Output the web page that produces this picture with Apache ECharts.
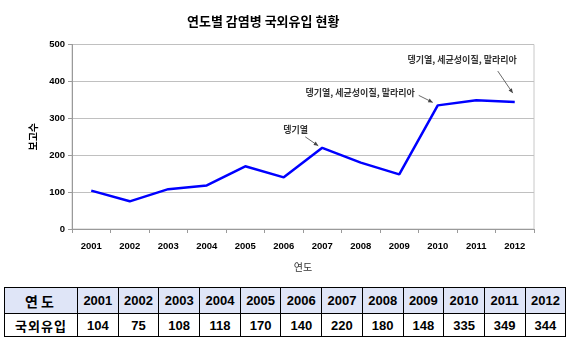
<!DOCTYPE html>
<html>
<head>
<meta charset="utf-8">
<script src="https://cdn.jsdelivr.net/npm/echarts@6/dist/echarts.min.js"></script>
<style>
  html, body { margin: 0; padding: 0; background: #fff; }
  #wrap { position: relative; width: 571px; height: 356px; overflow: hidden; }
  #chart { position: absolute; left: 0; top: 0; width: 571px; height: 285px; }
  #tbl { position: absolute; left: 4px; top: 287px; border-collapse: collapse; table-layout: fixed; }
  #tbl td { border: 1px solid #000; text-align: center; padding: 0; font-weight: bold; color: #000; }
  #tbl tr.h td { background: #dfe5f7; height: 25px; }
  #tbl tr.d td { background: #fff; height: 22px; }
  #tbl td.num { font-family: 'Liberation Sans Narrow', 'Liberation Sans', Arial, sans-serif; font-size: 13px; }
  #tbl td.kr { font-family: 'Noto Sans CJK KR', sans-serif; font-size: 13px; letter-spacing: 1px; }
</style>
</head>
<body>
<div id="wrap">
  <div id="chart"></div>
  <table id="tbl"></table>
</div>
<script>
// ---- data ----
var years = ['2001','2002','2003','2004','2005','2006','2007','2008','2009','2010','2011','2012'];
var cases = [104, 75, 108, 118, 170, 140, 220, 180, 148, 335, 349, 344];
var yMin = 0, yMax = 500, yStep = 100;
var titleText = '연도별 감염병 국외유입 현황';
var xName = '연도';
var yName = '보고수';
var rowHeadYear = '연도';
var rowHeadValue = '국외유입';
var noteIndex = [6, 9, 11];
var noteText = ['뎅기열', '뎅기열, 세균성이질, 말라리아', '뎅기열, 세균성이질, 말라리아'];

// ---- table ----
(function () {
  var t = document.getElementById('tbl');
  var h = '<colgroup><col style="width:73px">';
  for (var i = 0; i < years.length; i++) h += '<col style="width:40.7px">';
  h += '</colgroup><tr class="h"><td class="kr" style="font-size:14px;letter-spacing:3px">' + rowHeadYear + '</td>';
  for (var i = 0; i < years.length; i++) h += '<td class="num">' + years[i] + '</td>';
  h += '</tr><tr class="d"><td class="kr">' + rowHeadValue + '</td>';
  for (var i = 0; i < cases.length; i++) h += '<td class="num">' + cases[i] + '</td>';
  h += '</tr>';
  t.innerHTML = h;
})();

// ---- chart ----
var chart = echarts.init(document.getElementById('chart'), null, { renderer: 'canvas' });
var axisFont = { fontFamily: "'Liberation Sans', Arial, sans-serif", fontWeight: 'bold', fontSize: 9.5, color: '#000' };
chart.setOption({
  animation: false,
  backgroundColor: '#fff',
  title: {
    text: titleText, left: 182, top: 10,
    textStyle: { fontFamily: "'Noto Sans CJK KR', sans-serif", fontSize: 13, fontWeight: 'bold', color: '#000' }
  },
  grid: { left: 72, right: 37, top: 44.5, height: 184.5, show: true, borderColor: '#c8c8c8', borderWidth: 1 },
  xAxis: {
    type: 'category', data: years, boundaryGap: true,
    name: xName, nameLocation: 'middle', nameGap: 33,
    nameTextStyle: { fontFamily: "'Noto Sans CJK KR', sans-serif", fontSize: 10, color: '#333' },
    axisLine: { lineStyle: { color: '#9a9a9a', width: 1 } },
    axisTick: { show: true, length: 4, lineStyle: { color: '#9a9a9a' } },
    axisLabel: Object.assign({ margin: 12, interval: 0 }, axisFont),
    splitLine: { show: false }
  },
  yAxis: {
    type: 'value', min: yMin, max: yMax, interval: yStep,
    name: yName, nameLocation: 'middle', nameGap: 33, nameRotate: 90,
    nameTextStyle: { fontFamily: "'Noto Sans CJK KR', sans-serif", fontSize: 10, fontWeight: 'bold', color: '#000' },
    axisLine: { show: true, lineStyle: { color: '#9a9a9a', width: 1 } },
    axisTick: { show: true, length: 4, lineStyle: { color: '#9a9a9a' } },
    axisLabel: Object.assign({ margin: 7 }, axisFont),
    splitLine: { show: true, lineStyle: { color: '#c0c0c0', width: 1 } }
  },
  series: [{
    type: 'line', data: cases, symbol: 'none', smooth: false,
    lineStyle: { color: '#0000ff', width: 2.5 }, itemStyle: { color: '#0000ff' }
  }]
});

// ---- annotations (placed relative to the data points through the axes) ----
var noteStyle = [
  { tx: -39, ty: -18, align: 'left',  ax1: -17, ay1: -11, ax2: -4, ay2: -2 },
  { tx: -23, ty: -13, align: 'right', ax1: -19, ay1: -10, ax2: -5, ay2: -3 },
  { tx: 2,   ty: -42, align: 'right', ax1: -17, ay1: -31, ax2: -2, ay2: -9 }
];
var gfx = [];
for (var k = 0; k < noteIndex.length; k++) {
  var i = noteIndex[k];
  var p = chart.convertToPixel({ seriesIndex: 0 }, [i, cases[i]]);
  var s = noteStyle[k];
  gfx.push({
    type: 'text', x: p[0] + s.tx, y: p[1] + s.ty, silent: true,
    style: { text: noteText[k], fill: '#333', align: s.align, verticalAlign: 'middle',
      font: "bold 9px 'Noto Sans CJK KR', sans-serif" }
  });
  var x1 = p[0] + s.ax1, y1 = p[1] + s.ay1, x2 = p[0] + s.ax2, y2 = p[1] + s.ay2;
  gfx.push({ type: 'line', silent: true, shape: { x1: x1, y1: y1, x2: x2, y2: y2 },
    style: { stroke: '#444', lineWidth: 0.8 } });
  var ang = Math.atan2(y2 - y1, x2 - x1), L = 4.5, W = 2;
  var bx = x2 - L * Math.cos(ang), by = y2 - L * Math.sin(ang);
  gfx.push({ type: 'polygon', silent: true, shape: { points: [
      [x2, y2],
      [bx + W * Math.sin(ang), by - W * Math.cos(ang)],
      [bx - W * Math.sin(ang), by + W * Math.cos(ang)]
    ] }, style: { fill: '#444' } });
}
chart.setOption({ graphic: gfx });
</script>
</body>
</html>
